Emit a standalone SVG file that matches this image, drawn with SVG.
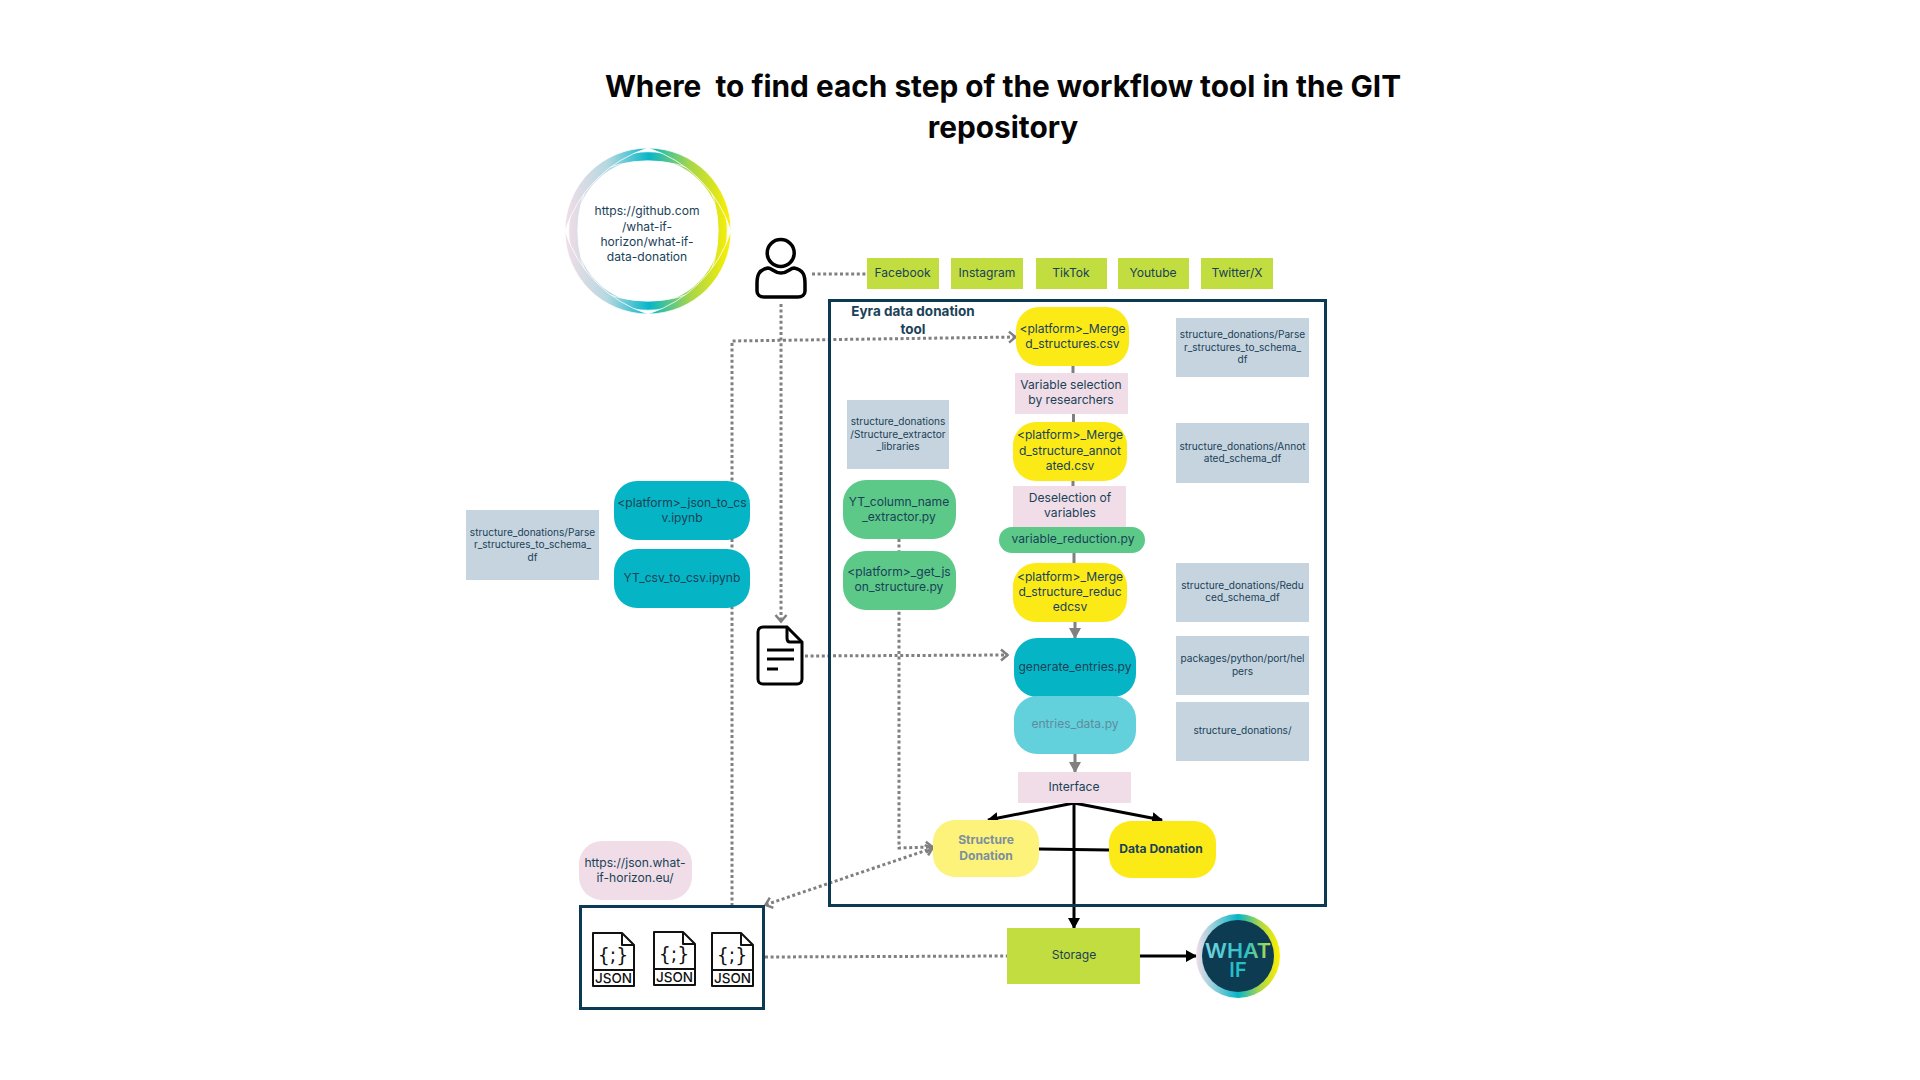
<svg xmlns="http://www.w3.org/2000/svg" width="1920" height="1080" viewBox="0 0 1920 1080">
<style>
text{font-family:"Inter","Noto Sans","Liberation Sans",sans-serif;fill:#1a4257;text-anchor:middle}
.t{font-size:12.1px}
.g{font-size:10.1px}
.b{font-weight:700}
.title{font-size:29.8px;font-weight:700;fill:#050505;white-space:pre}
.dot{fill:none;stroke:#808080;stroke-width:3;stroke-dasharray:3 2.6}
.gr{fill:none;stroke:#808080;stroke-width:3}
.bk{fill:none;stroke:#000;stroke-width:3}
.y{fill:#fcea17}.gn{fill:#5cc989}.te{fill:#06b5c5}.pk{fill:#f0dde7}.bl{fill:#c6d4df}.li{fill:#c2dd3f}
.frame{fill:none;stroke:#0b3a52;stroke-width:3}
.ic{fill:none;stroke:#111;stroke-width:2;stroke-linejoin:round}
.sw{fill:url(#ring);stroke:#fff;stroke-width:.8}
.js1{font-size:19px;fill:#111;font-family:"DejaVu Sans",sans-serif}
.js2{font-size:13.500px;fill:#111;font-weight:500}
</style>
<defs>
<linearGradient id="ring" gradientUnits="userSpaceOnUse" x1="565" y1="231" x2="731" y2="231">
<stop offset="0" stop-color="#f0dde7"/><stop offset=".25" stop-color="#b5d8e0"/><stop offset=".5" stop-color="#06b6c8"/><stop offset=".75" stop-color="#a8d64a"/><stop offset="1" stop-color="#fff000"/>
</linearGradient>
<linearGradient id="ring2" gradientUnits="userSpaceOnUse" x1="1196" y1="956" x2="1280" y2="956">
<stop offset="0" stop-color="#f0dde7"/><stop offset=".25" stop-color="#7fcbd8"/><stop offset=".5" stop-color="#06b6c8"/><stop offset=".75" stop-color="#a8d64a"/><stop offset="1" stop-color="#fff000"/>
</linearGradient>
<linearGradient id="what" gradientUnits="userSpaceOnUse" x1="1204" y1="956" x2="1272" y2="956">
<stop offset="0" stop-color="#7fd6e0"/><stop offset=".6" stop-color="#25bfc9"/><stop offset="1" stop-color="#c2dd3f"/>
</linearGradient>
<marker id="aopen" markerUnits="userSpaceOnUse" markerWidth="12" markerHeight="14" refX="9" refY="7" orient="auto-start-reverse"><path d="M2 1.500L8.500 7L2 12.500" fill="none" stroke="#808080" stroke-width="2.500"/></marker>
<marker id="agr" markerUnits="userSpaceOnUse" markerWidth="12" markerHeight="12" refX="10" refY="6" orient="auto"><path d="M0 0L11 6L0 12Z" fill="#808080"/></marker>
<marker id="abk" markerUnits="userSpaceOnUse" markerWidth="12" markerHeight="12" refX="10" refY="6" orient="auto"><path d="M0 0L11 6L0 12Z" fill="#000"/></marker>
</defs>
<rect width="1920" height="1080" fill="#fff"/>
<g id="title"><text class="title" x="1003" y="97">Where  to find each step of the workflow tool in the GIT</text><text class="title" x="1003" y="138">repository</text></g>

<g id="connectors">
<path class="dot" d="M812 274H866"/>
<path class="dot" d="M781 304V622" marker-end="url(#aopen)"/>
<path class="dot" d="M732 906V341L1016 337" marker-end="url(#aopen)"/>
<path class="dot" d="M805 656L1008 655" marker-end="url(#aopen)"/>
<path class="dot" d="M899 539V848L933 847" marker-end="url(#aopen)"/>
<path class="dot" d="M933 848L765 905" marker-start="url(#aopen)" marker-end="url(#aopen)"/>
<path class="dot" d="M765 957L1007 956"/>
<path class="gr" d="M1073 366V373M1073.500 414V422M1073 481V486M1074 553V563"/>
<path class="gr" d="M1075 622V638" marker-end="url(#agr)"/>
<path class="gr" d="M1075 754V772" marker-end="url(#agr)"/>
<path class="bk" d="M1074 803L988 820" marker-end="url(#abk)"/>
<path class="bk" d="M1074 803L1162 820" marker-end="url(#abk)"/>
<path class="bk" d="M1074 803V928" marker-end="url(#abk)"/>
<path class="bk" d="M1039 849L1109 850"/>
<path class="bk" d="M1140 956H1196" marker-end="url(#abk)"/>
</g>

<g id="eyra"><rect class="frame" x="829.500" y="300.500" width="496" height="605"/><text class="b" style="font-size:13.500px" x="913" y="316">Eyra data donation</text><text class="b" style="font-size:13.500px" x="913" y="334">tool</text></g>

<g id="github">
<circle cx="648" cy="231" r="75.500" fill="none" stroke="url(#ring)" stroke-width="7"/>
<g transform="translate(1 0)">
<path class="sw" d="M703 175A79 79 0 0 1 703 287A117.700 117.700 0 0 0 703 175Z"/>
<path class="sw" d="M703 287A79 79 0 0 1 591 287A117.700 117.700 0 0 0 703 287Z"/>
<path class="sw" d="M591 287A79 79 0 0 1 591 175A117.700 117.700 0 0 0 591 287Z"/>
<path class="sw" d="M591 175A79 79 0 0 1 703 175A117.700 117.700 0 0 0 591 175Z"/>
<path class="sw" d="M647 148A83 83 0 0 1 730 231A127.600 127.600 0 0 0 647 148Z"/>
<path class="sw" d="M730 231A83 83 0 0 1 647 314A127.600 127.600 0 0 0 730 231Z"/>
<path class="sw" d="M647 314A83 83 0 0 1 564 231A127.600 127.600 0 0 0 647 314Z"/>
<path class="sw" d="M564 231A83 83 0 0 1 647 148A127.600 127.600 0 0 0 564 231Z"/>
</g>
<text class="t" x="647" y="215">https://github.com</text><text class="t" x="647" y="231">/what-if-</text><text class="t" x="647" y="246">horizon/what-if-</text><text class="t" x="647" y="261">data-donation</text>
</g>

<g id="user"><circle cx="780.700" cy="253" r="13.500" fill="none" stroke="#000" stroke-width="3.500"/><path d="M768 268C758 270 757 276 757 284V291C757 295 760 297 764 297H798C802 297 805 295 805 291V284C805 276 804 270 794 268C790 268 788 273 781 273C774 273 772 268 768 268Z" fill="none" stroke="#000" stroke-width="3.500"/></g>

<g id="facebook"><rect class="li" x="867" y="258" width="72" height="31"/><text class="t" x="902.500" y="277">Facebook</text></g>
<g id="instagram"><rect class="li" x="951" y="258" width="72" height="31"/><text class="t" x="987" y="277">Instagram</text></g>
<g id="tiktok"><rect class="li" x="1036" y="258" width="71" height="31"/><text class="t" x="1071" y="277">TikTok</text></g>
<g id="youtube"><rect class="li" x="1118" y="258" width="71" height="31"/><text class="t" x="1153" y="277">Youtube</text></g>
<g id="twitter"><rect class="li" x="1201" y="258" width="72" height="31"/><text class="t" x="1237" y="277">Twitter/X</text></g>

<g id="merged"><rect class="y" x="1016" y="307" width="113" height="59" rx="23"/><text class="t" x="1072.500" y="333">&lt;platform&gt;_Merge</text><text class="t" x="1072.500" y="348">d_structures.csv</text></g>
<g id="varsel"><rect class="pk" x="1015" y="373" width="113" height="41"/><text class="t" x="1071" y="389">Variable selection</text><text class="t" x="1071" y="404">by researchers</text></g>
<g id="annotated"><rect class="y" x="1013" y="422" width="114" height="59" rx="23"/><text class="t" x="1070" y="439">&lt;platform&gt;_Merge</text><text class="t" x="1070" y="455">d_structure_annot</text><text class="t" x="1070" y="470">ated.csv</text></g>
<g id="desel"><rect class="pk" x="1013" y="486" width="113" height="41"/><text class="t" x="1070" y="502">Deselection of</text><text class="t" x="1070" y="517">variables</text></g>
<g id="varred"><rect class="gn" x="999" y="527" width="146" height="26" rx="13"/><text class="t" x="1073" y="543">variable_reduction.py</text></g>
<g id="reduced"><rect class="y" x="1013" y="563" width="114" height="59" rx="23"/><text class="t" x="1070" y="581">&lt;platform&gt;_Merge</text><text class="t" x="1070" y="596">d_structure_reduc</text><text class="t" x="1070" y="611">edcsv</text></g>
<g id="generate"><rect class="te" x="1014" y="638" width="122" height="59" rx="23"/><text class="t" x="1075" y="671">generate_entries.py</text></g>
<g id="entries"><rect fill="#63d1dc" x="1014" y="696" width="122" height="58" rx="23"/><text class="t" style="fill:#5f8c9c" x="1075" y="728">entries_data.py</text></g>
<g id="interface"><rect class="pk" x="1018" y="772" width="113" height="31"/><text class="t" x="1074" y="791">Interface</text></g>
<g id="structdon"><rect fill="#fdf27a" x="933" y="820" width="106" height="57" rx="22"/><text class="t b" style="fill:#7b8f9f" x="986" y="844">Structure</text><text class="t b" style="fill:#7b8f9f" x="986" y="860">Donation</text></g>
<g id="datadon"><rect class="y" x="1109" y="821" width="107" height="57" rx="22"/><text class="t b" x="1161" y="853">Data Donation</text></g>

<g id="path1"><rect class="bl" x="1176" y="318" width="133" height="59"/><text class="g" x="1242.500" y="338">structure_donations/Parse</text><text class="g" x="1242.500" y="351">r_structures_to_schema_</text><text class="g" x="1242.500" y="363">df</text></g>
<g id="path2"><rect class="bl" x="1176" y="423" width="133" height="60"/><text class="g" x="1242.500" y="450">structure_donations/Annot</text><text class="g" x="1242.500" y="462">ated_schema_df</text></g>
<g id="path3"><rect class="bl" x="1176" y="563" width="133" height="59"/><text class="g" x="1242.500" y="589">structure_donations/Redu</text><text class="g" x="1242.500" y="601">ced_schema_df</text></g>
<g id="path4"><rect class="bl" x="1176" y="636" width="133" height="59"/><text class="g" x="1242.500" y="662">packages/python/port/hel</text><text class="g" x="1242.500" y="675">pers</text></g>
<g id="path5"><rect class="bl" x="1176" y="702" width="133" height="59"/><text class="g" x="1242.500" y="734">structure_donations/</text></g>
<g id="path6"><rect class="bl" x="847" y="400" width="102" height="69"/><text class="g" x="898" y="425">structure_donations</text><text class="g" x="898" y="438">/Structure_extractor</text><text class="g" x="898" y="450">_libraries</text></g>
<g id="path7"><rect class="bl" x="466" y="510" width="133" height="70"/><text class="g" x="532.500" y="536">structure_donations/Parse</text><text class="g" x="532.500" y="548">r_structures_to_schema_</text><text class="g" x="532.500" y="561">df</text></g>

<g id="jsontocsv"><rect class="te" x="614" y="481" width="136" height="59" rx="23"/><text class="t" x="682" y="507">&lt;platform&gt;_json_to_cs</text><text class="t" x="682" y="522">v.ipynb</text></g>
<g id="ytcsv"><rect class="te" x="614" y="549" width="136" height="59" rx="23"/><text class="t" x="682" y="582">YT_csv_to_csv.ipynb</text></g>
<g id="ytcol"><rect class="gn" x="843" y="480" width="113" height="59" rx="23"/><text class="t" x="899" y="506">YT_column_name</text><text class="t" x="899" y="521">_extractor.py</text></g>
<g id="getjson"><rect class="gn" x="843" y="551" width="113" height="59" rx="23"/><text class="t" x="899" y="576">&lt;platform&gt;_get_js</text><text class="t" x="899" y="591">on_structure.py</text></g>

<g id="doc"><path d="M763 627H787L802 642V679C802 682 800 684 797 684H763C760 684 758 682 758 679V632C758 629 760 627 763 627Z" fill="none" stroke="#000" stroke-width="3"/><path d="M787 627V638C787 640 788 642 790 642H802M767 650H794M767 659H794M767 669H778" fill="none" stroke="#000" stroke-width="3"/></g>

<g id="urlnode"><rect class="pk" x="579" y="841" width="113" height="59" rx="23"/><text class="t" x="635" y="867">https://json.what-</text><text class="t" x="635" y="882">if-horizon.eu/</text></g>

<g id="jsonbox"><rect class="frame" x="580.500" y="906.500" width="183" height="102"/>
<g transform="translate(592 932)"><path class="ic" d="M1 1H30L42 13V54H1ZM30 1V13H42M1 38H42"/><text class="js1" x="21" y="30">{;}</text><text class="js2" x="21.500" y="51">JSON</text></g>
<g transform="translate(653 931)"><path class="ic" d="M1 1H30L42 13V54H1ZM30 1V13H42M1 38H42"/><text class="js1" x="21" y="30">{;}</text><text class="js2" x="21.500" y="51">JSON</text></g>
<g transform="translate(711 932)"><path class="ic" d="M1 1H30L42 13V54H1ZM30 1V13H42M1 38H42"/><text class="js1" x="21" y="30">{;}</text><text class="js2" x="21.500" y="51">JSON</text></g>
</g>

<g id="storage"><rect class="li" x="1007" y="928" width="133" height="56"/><text class="t" x="1074" y="959">Storage</text></g>
<g id="whatif"><circle cx="1238" cy="956" r="42" fill="url(#ring2)"/><circle cx="1238" cy="956" r="36" fill="#0d3b52"/><text style="font-size:20px;font-weight:600;fill:url(#what)" x="1238" y="958" textLength="66" lengthAdjust="spacingAndGlyphs">WHAT</text><text style="font-size:20px;font-weight:600;fill:#25bfc9" x="1238" y="977">IF</text></g>
</svg>
